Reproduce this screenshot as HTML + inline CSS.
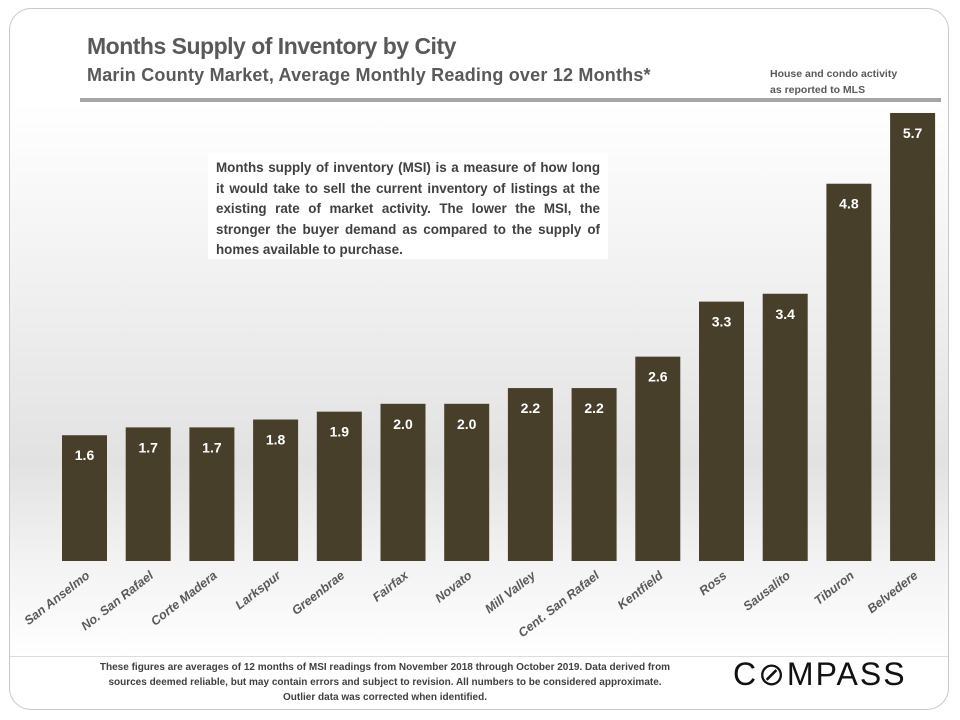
<!DOCTYPE html>
<html><head><meta charset="utf-8"><style>
body{margin:0;width:960px;height:720px;background:#fff;font-family:"Liberation Sans",sans-serif;overflow:hidden;position:relative}
.frame{position:absolute;left:9px;top:8px;width:940px;height:702px;border:1px solid #c8c8c8;border-radius:22px;box-sizing:border-box}
.plot{position:absolute;left:10px;top:103px;width:938px;height:553px;background:linear-gradient(180deg,#fff 0%,#f4f4f4 25%,#e2e2e2 65%,#f2f2f2 82%,#fff 100%);border-bottom:1px solid #ddd}
#t1{position:absolute;left:87px;top:33px;font-size:23px;font-weight:bold;color:#595959;letter-spacing:-0.5px}
#t2{position:absolute;left:87px;top:65px;font-size:18px;font-weight:bold;color:#595959;letter-spacing:0.2px}
#note{position:absolute;left:770px;top:66px;font-size:10.5px;font-weight:bold;color:#595959;line-height:16px}
.rule{position:absolute;left:80px;top:98px;width:861px;height:4px;background:#a6a6a6}
#box{position:absolute;left:208px;top:153px;width:400px;height:106px;background:#fff;box-sizing:border-box;padding:5px 8px;font-size:13.4px;font-weight:bold;color:#404040;line-height:20.5px;text-align:justify}
#foot{position:absolute;left:95px;top:660px;width:580px;text-align:center;font-size:10px;color:#404040;line-height:15px;font-weight:bold}
#logo{position:absolute;left:733px;top:655px;font-size:32px;letter-spacing:2px;color:#111}
</style></head><body>
<div class="frame"></div>
<div class="plot"></div>
<div id="t1">Months Supply of Inventory by City</div>
<div id="t2">Marin County Market, Average Monthly Reading over 12 Months*</div>
<div id="note">House and condo activity<br>as reported to MLS</div>
<div class="rule"></div>
<svg id="chart" width="960" height="720" style="position:absolute;left:0;top:0"></svg>
<div id="box">Months supply of inventory (MSI) is a measure of how long it would take to sell the current inventory of listings at the existing rate of market activity. The lower the MSI, the stronger the buyer demand as compared to the supply of homes available to purchase.</div>
<div id="foot">These figures are averages of 12 months of MSI readings from November 2018 through October 2019. Data derived from sources deemed reliable, but may contain errors and subject to revision. All numbers to be considered approximate. Outlier data was corrected when identified.</div>
<div id="logo">C&#8856;MPASS</div>
<script>
const categories=["San Anselmo","No. San Rafael","Corte Madera","Larkspur","Greenbrae","Fairfax","Novato","Mill Valley","Cent. San Rafael","Kentfield","Ross","Sausalito","Tiburon","Belvedere"];
const values=[1.6,1.7,1.7,1.8,1.9,2.0,2.0,2.2,2.2,2.6,3.3,3.4,4.8,5.7];
const labels=["1.6","1.7","1.7","1.8","1.9","2.0","2.0","2.2","2.2","2.6","3.3","3.4","4.8","5.7"];
const svg=document.getElementById('chart');const NS='http://www.w3.org/2000/svg';
const base=561,scale=78.6,x0=62,step=63.7,bw=45;
function xPos(i){return x0+i*step}
function yPos(v){return base-v*scale}
categories.forEach((c,i)=>{
 const r=document.createElementNS(NS,'rect');
 r.setAttribute('x',xPos(i));r.setAttribute('y',yPos(values[i]));r.setAttribute('width',bw);r.setAttribute('height',base-yPos(values[i]));r.setAttribute('fill','#483f2b');
 
 
 svg.appendChild(r);
 const t=document.createElementNS(NS,'text');
 t.setAttribute('x',xPos(i)+bw/2);t.setAttribute('y',yPos(values[i])+25);t.setAttribute('text-anchor','middle');t.setAttribute('fill','#fff');t.setAttribute('font-size','14');t.setAttribute('font-weight','bold');t.textContent=labels[i];
 
 
 svg.appendChild(t);
 const l=document.createElementNS(NS,'text');
 const cx=xPos(i)+bw/2+6,cy=577;
 l.setAttribute('x',cx);l.setAttribute('y',cy);l.setAttribute('text-anchor','end');l.setAttribute('fill','#595959');l.setAttribute('font-size','12.5');l.setAttribute('font-weight','bold');l.setAttribute('font-style','italic');
 l.setAttribute('transform','rotate(-38 '+cx+' '+cy+')');l.textContent=c;
 
 
 svg.appendChild(l);
});
</script>
</body></html>
